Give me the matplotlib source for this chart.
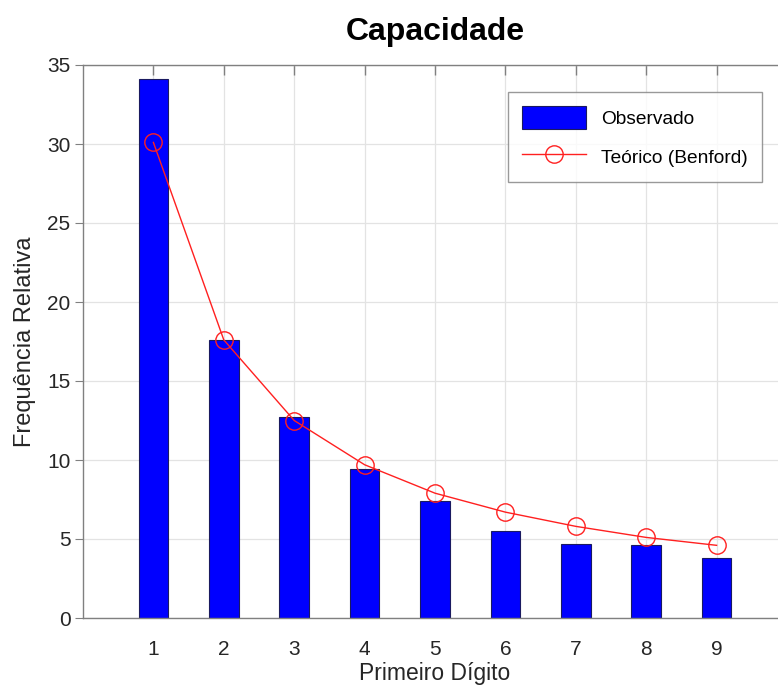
import matplotlib
matplotlib.use("Agg")
import matplotlib.pyplot as plt

digits = [1, 2, 3, 4, 5, 6, 7, 8, 9]
observado = [34.1, 17.6, 12.7, 9.45, 7.4, 5.5, 4.7, 4.6, 3.8]
benford = [30.1, 17.6, 12.5, 9.7, 7.9, 6.7, 5.8, 5.1, 4.6]

plt.rcParams['font.family'] = ['Liberation Sans', 'DejaVu Sans']

fig = plt.figure(figsize=(7.78, 6.87), dpi=100)
ax = fig.add_axes([83/778, 69/687, 704/778, 553/687])

bars = ax.bar(digits, observado, width=0.42, color='#0000ff', edgecolor='#1a1a60',
              linewidth=0.8, label='Observado', zorder=2)
line, = ax.plot(digits, benford, color='#ff2020', linewidth=1.0, marker='o',
                markersize=12.5, markerfacecolor='none', markeredgecolor='#ff2020',
                markeredgewidth=1.0, label='Teórico (Benford)', zorder=3)

ax.set_xlim(0, 10)
ax.set_ylim(0, 35)
ax.set_xticks(digits)
ax.set_yticks(range(0, 36, 5))
ax.grid(True, color='#e3e3e3', linewidth=0.9, zorder=0)
ax.set_axisbelow(True)

ax.spines['right'].set_visible(False)
for s in ['left', 'bottom', 'top']:
    ax.spines[s].set_color('#808080')
    ax.spines[s].set_linewidth(1.0)

ax.tick_params(axis='y', direction='out', length=6, color='#808080',
               labelsize=15, labelcolor='#262626', pad=3)
ax.tick_params(axis='x', length=0, labelsize=15, labelcolor='#262626', pad=16)

# top ticks pointing inward
for t in ax.xaxis.get_major_ticks():
    t.tick2line.set_visible(True)
    t.tick2line.set_marker(3)  # TICKDOWN
    t.tick2line.set_markersize(7)
    t.tick2line.set_markeredgecolor('#808080')
    t.tick2line.set_markeredgewidth(1.0)

ax.set_xlabel('Primeiro Dígito', fontsize=16.5, color='#262626', labelpad=2)
ax.set_ylabel('Frequência Relativa', fontsize=17, color='#262626', labelpad=8)
ax.set_title('Capacidade', fontsize=23, fontweight='bold', pad=18)

leg = ax.legend([bars, line], ['Observado', 'Teórico (Benford)'],
                loc='upper right', bbox_to_anchor=(679/704, 1 - 27/553),
                fontsize=13.8, frameon=True, fancybox=False, borderpad=0.75,
                handlelength=3.3, handleheight=1.4, labelspacing=0.9,
                handletextpad=0.8, borderaxespad=0)
leg.get_frame().set_edgecolor('#808080')
leg.get_frame().set_linewidth(1.0)

fig.savefig('out.png', dpi=100)
